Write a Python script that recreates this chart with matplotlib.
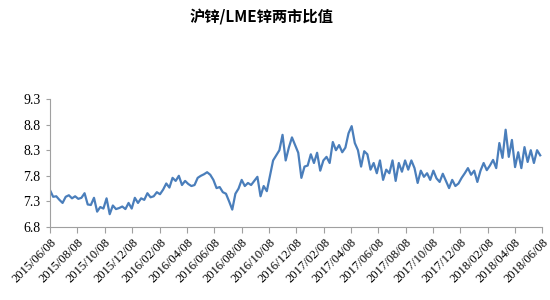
import matplotlib
matplotlib.use('Agg')
import matplotlib.pyplot as plt
import matplotlib.dates as mdates
import pandas as pd

title = '沪锌/LME锌两市比值'
start_date = '2015-06-08'
end_date = '2018-06-08'
# weekly readings of the ratio, starting 2015-06-08
ratio = [
	7.52, 7.39, 7.40, 7.33, 7.27, 7.39, 7.42, 7.36, 7.40, 7.35,
	7.37, 7.46, 7.24, 7.23, 7.37, 7.10, 7.19, 7.16, 7.36, 7.05,
	7.22, 7.15, 7.17, 7.20, 7.15, 7.27, 7.16, 7.37, 7.27, 7.36,
	7.33, 7.46, 7.38, 7.40, 7.48, 7.44, 7.53, 7.65, 7.57, 7.76,
	7.70, 7.80, 7.62, 7.70, 7.64, 7.60, 7.62, 7.76, 7.80, 7.83,
	7.87, 7.82, 7.72, 7.56, 7.58, 7.48, 7.45, 7.30, 7.14, 7.45,
	7.55, 7.72, 7.60, 7.66, 7.62, 7.70, 7.78, 7.40, 7.60, 7.50,
	7.80, 8.10, 8.20, 8.30, 8.60, 8.10, 8.35, 8.55, 8.40, 8.25,
	7.76, 7.98, 8.00, 8.22, 8.05, 8.25, 7.90, 8.10, 8.17, 8.05,
	8.46, 8.30, 8.40, 8.26, 8.35, 8.63, 8.77, 8.44, 8.30, 7.98,
	8.28, 8.22, 7.92, 8.05, 7.85, 8.10, 7.72, 7.92, 7.85, 8.10,
	7.70, 8.05, 7.88, 8.10, 7.92, 8.10, 7.95, 7.66, 7.90, 7.78,
	7.85, 7.72, 7.90, 7.75, 7.68, 7.84, 7.70, 7.56, 7.72, 7.60,
	7.65, 7.76, 7.85, 7.95, 7.82, 7.90, 7.68, 7.90, 8.05, 7.91,
	8.00, 8.11, 7.95, 8.44, 8.15, 8.70, 8.17, 8.50, 7.97, 8.26,
	7.95, 8.36, 8.07, 8.30, 8.05, 8.30, 8.20,
]
y_ticks = [6.8, 7.3, 7.8, 8.3, 8.8, 9.3]
x_ticks = pd.date_range('2015-06-01', '2018-06-01', freq='2MS') + pd.Timedelta(days=7)

dates = pd.date_range(start_date, periods=len(ratio), freq='7D')

fig = plt.figure(figsize=(5.5, 3), dpi=100)
ax = fig.add_axes([50/550, 1-227/300, 492/550, 128/300])

ax.plot(dates, ratio, color='#4a7ebb', lw=1.6)

ax.set_xlim(pd.Timestamp(start_date), pd.Timestamp(end_date))
ax.set_ylim(6.8, 9.3)
ax.set_yticks(y_ticks)
ax.yaxis.set_major_formatter(plt.FormatStrFormatter('%.1f'))
ax.set_xticks(x_ticks)
ax.xaxis.set_major_formatter(mdates.DateFormatter('%Y/%m/%d'))
plt.setp(ax.get_xticklabels(), rotation=45, ha='right', rotation_mode='anchor')

for s in ['top', 'right']:
	ax.spines[s].set_visible(False)
for s in ['left', 'bottom']:
	ax.spines[s].set_color('#a0a0a0')
ax.tick_params(axis='x', length=4, color='#a0a0a0', pad=3,
	labelsize=9, labelfontfamily='Liberation Serif')
ax.tick_params(axis='y', length=3, color='#a0a0a0', pad=4,
	labelsize=10, labelfontfamily='Liberation Serif')

fig.text(262/550, 1-17/300, title, ha='center', va='center', fontsize=11,
	fontweight='bold', family=['Noto Sans CJK SC', 'DejaVu Sans'])

fig.savefig('out.png', dpi=100)
